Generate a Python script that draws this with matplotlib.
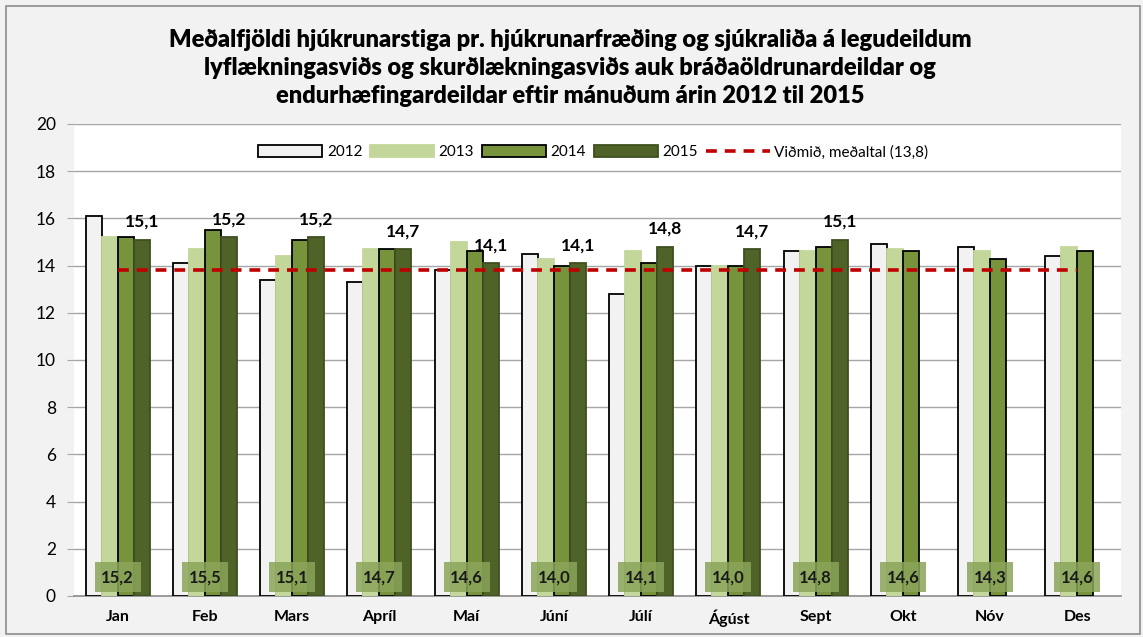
# -*- coding: utf-8 -*-

"""
Meðalfjöldi hjúkrunarstiga - grouped bars per month, 2012-2015
"""

import matplotlib
matplotlib.use('Agg')
import matplotlib.pyplot as plt
import matplotlib.patches as mpatches
import numpy as np

plt.rcParams['font.family'] = ['Lato', 'DejaVu Sans']

# =============================================================================
# Data
# =============================================================================
months = ['Jan', 'Feb', 'Mars', 'Apríl', 'Maí', 'Júní', 'Júlí', 'Ágúst',
          'Sept', 'Okt', 'Nóv', 'Des']
years = ['2012', '2013', '2014', '2015']

v2012 = [16.1, 14.1, 13.4, 13.3, 13.8, 14.5, 12.8, 14.0, 14.6, 14.9, 14.8, 14.4]
v2013 = [15.2, 14.7, 14.4, 14.7, 15.0, 14.3, 14.6, 14.0, 14.6, 14.7, 14.6, 14.8]
v2014 = [15.2, 15.5, 15.1, 14.7, 14.6, 14.0, 14.1, 14.0, 14.8, 14.6, 14.3, 14.6]
v2015 = [15.1, 15.2, 15.2, 14.7, 14.1, 14.1, 14.8, 14.7, 15.1]
target = [13.8] * 12

title = ('Meðalfjöldi hjúkrunarstiga pr. hjúkrunarfræðing og sjúkraliða á legudeildum\n'
         'lyflækningasviðs og skurðlækningasviðs auk bráðaöldrunardeildar og\n'
         'endurhæfingardeildar eftir mánuðum árin 2012 til 2015')
target_label = 'Viðmið, meðaltal (13,8)'

# =============================================================================
# Figure setup
# =============================================================================
bg = '#f2f2f2'
fig = plt.figure(figsize=(11.43, 6.37), dpi=100, facecolor=bg)
ax = fig.add_axes([74 / 1143, 1 - 596 / 637, (1121 - 74) / 1143, (596 - 124) / 637])
ax.set_facecolor('white')

# Outer frame of the chart
fig.patches.append(mpatches.Rectangle(
    (6 / 1143, 3 / 637), 1 - 9 / 1143, 1 - 9 / 637,
    transform=fig.transFigure, fill=False, edgecolor='#8c8c8c', lw=1.2))

colors = ['#f2f2f2', '#c4d79b', '#77933c', '#4f6228']
edges = ['black', '#c4d79b', 'black', '#3f4f20']
series = [v2012, v2013, v2014, v2015]

x = np.arange(len(months))
w = 0.184
handles = []
for i, (vals, c, e, lab) in enumerate(zip(series, colors, edges, years)):
    xi = x[:len(vals)] + (i - 1.5) * w
    b = ax.bar(xi, vals, width=w, color=c, edgecolor=e, linewidth=1.3,
               label=lab, zorder=3)
    handles.append(b)

# Target line
line, = ax.plot(x, target, color='#c00000', lw=2.6, dashes=(3, 2.2),
                label=target_label, zorder=4)
handles.append(line)

# Labels on top of 2015 bars
for xi, v in zip(x[:len(v2015)] + 1.5 * w, v2015):
    ax.annotate(('%.1f' % v).replace('.', ','), (xi, v), xytext=(0, 13),
                textcoords='offset points', ha='center', va='center',
                fontsize=12.5, fontweight='bold', zorder=5)

# 2014 values in boxes near the bottom
for xi, v in zip(x, v2014):
    ax.text(xi, 0.8, ('%.1f' % v).replace('.', ','), ha='center', va='center',
            fontsize=12, fontweight='bold', color='#1a1a1a', zorder=6,
            bbox=dict(boxstyle='square,pad=0.4', facecolor='#8aa55a',
                      edgecolor='none', alpha=0.85))

# Axes styling
ax.set_xlim(-0.5, 11.5)
ax.set_ylim(0, 20)
ax.set_yticks(np.arange(0, 21, 2))
ax.set_xticks(x)
ax.set_xticklabels(months, fontsize=11.5, fontweight='bold')
ax.tick_params(axis='y', labelsize=12.5, length=5, color='#a6a6a6', pad=8)
ax.tick_params(axis='x', length=0, pad=10)
ax.grid(axis='y', color='#a6a6a6', lw=1, zorder=0)
for s in ['top', 'right', 'left']:
    ax.spines[s].set_visible(False)
ax.spines['bottom'].set_color('#8c8c8c')
ax.spines['bottom'].set_linewidth(1.2)

ax.legend(handles=handles, loc='center', bbox_to_anchor=(0.496, 0.94),
          ncol=5, frameon=False, fontsize=11, handlelength=4.2,
          handleheight=0.8, handletextpad=0.3, columnspacing=0.5)

fig.text(0.499, 1 - 68 / 637, title, ha='center', va='center',
         fontsize=17, fontweight='heavy', linespacing=1.3)

fig.savefig('out.png', dpi=100, facecolor=bg)
